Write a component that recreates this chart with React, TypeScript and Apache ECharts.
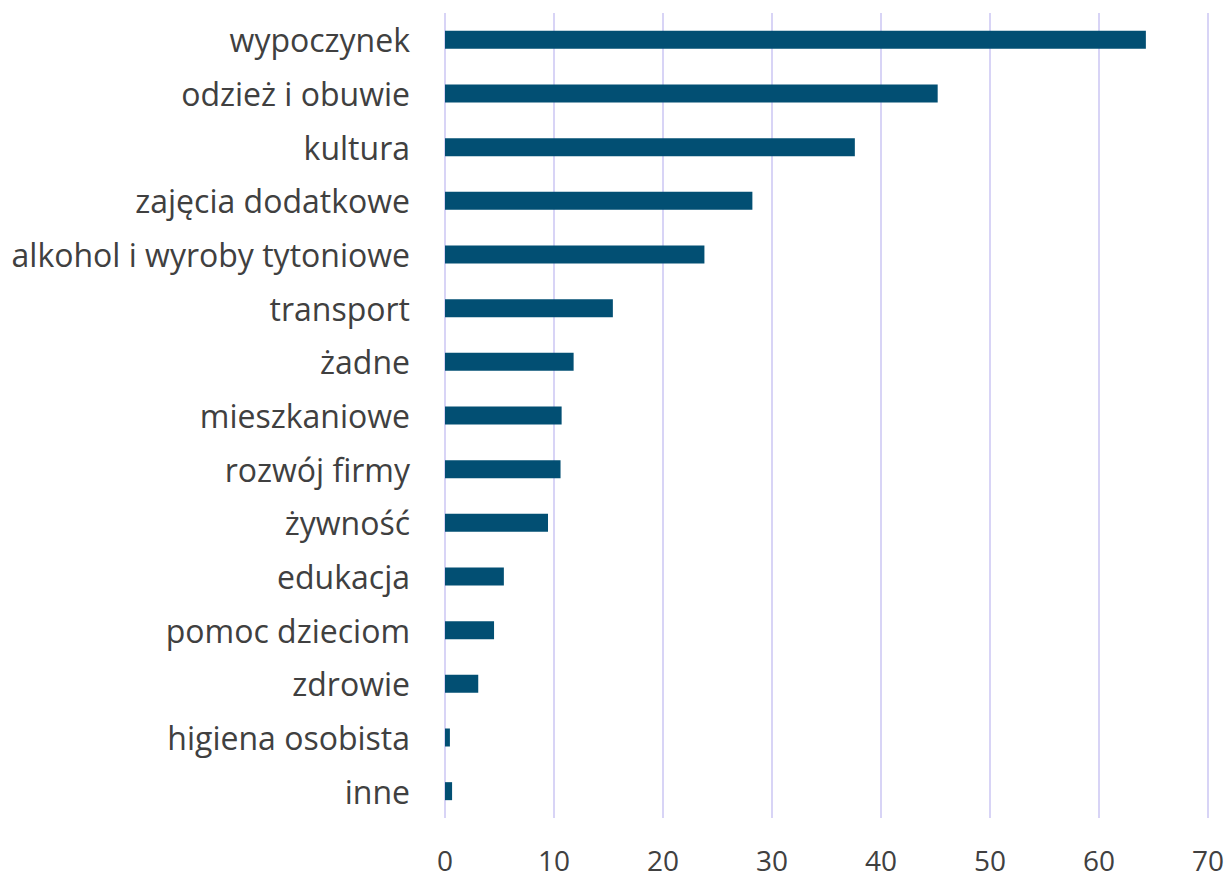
import React, { useEffect, useRef } from "react";
import * as echarts from "echarts";

const categories = [
  "wypoczynek",
  "odzież i obuwie",
  "kultura",
  "zajęcia dodatkowe",
  "alkohol i wyroby tytoniowe",
  "transport",
  "żadne",
  "mieszkaniowe",
  "rozwój firmy",
  "żywność",
  "edukacja",
  "pomoc dzieciom",
  "zdrowie",
  "higiena osobista",
  "inne",
];

const values = [64.3, 45.2, 37.6, 28.2, 23.8, 15.4, 11.8, 10.7, 10.6, 9.45, 5.4, 4.5, 3.05, 0.45, 0.65];

const xTicks = { min: 0, max: 70, interval: 10 };

export default function App() {
  const ref = useRef<HTMLDivElement>(null);
  useEffect(() => {
    if (!ref.current) return;
    const chart = echarts.init(ref.current, undefined, { renderer: "svg" });
    chart.setOption({
      animation: false,
      backgroundColor: "#ffffff",
      grid: { left: 445, right: 21, top: 13, bottom: 60, containLabel: false },
      xAxis: {
        type: "value",
        min: xTicks.min,
        max: xTicks.max,
        interval: xTicks.interval,
        axisLine: { show: false },
        axisTick: { show: false },
        splitLine: { show: true, lineStyle: { color: "#d8d4f6", width: 2 } },
        axisLabel: {
          color: "#404040",
          fontSize: 28,
          fontFamily: "Open Sans",
          margin: 28,
        },
      },
      yAxis: {
        type: "category",
        data: categories,
        inverse: true,
        axisLine: { show: false },
        axisTick: { show: false },
        splitLine: { show: false },
        axisLabel: {
          color: "#404040",
          fontSize: 32,
          fontFamily: "Open Sans",
          margin: 35,
        },
      },
      series: [
        {
          type: "bar",
          data: values,
          barWidth: 18,
          itemStyle: { color: "#024f73" },
        },
      ],
    });
    return () => chart.dispose();
  }, []);
  return (
    <div
      ref={ref}
      style={{ position: "fixed", left: 0, top: 0, width: 1229, height: 878 }}
    />
  );
}
